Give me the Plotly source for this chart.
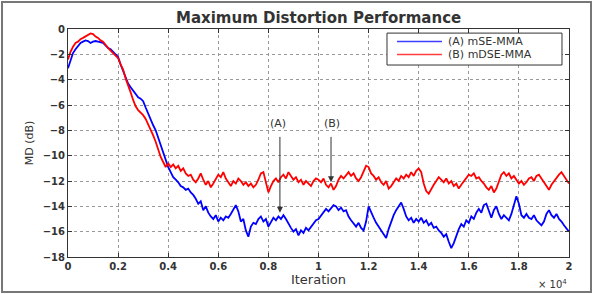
import plotly.graph_objects as go

# Sample iterations (every 100 iterations, 0 .. 20000)
iteration = list(range(0, 20001, 100))

# (A) mSE-MMA  – maximum distortion in dB
md_mse = [
    -3.1, -2.4, -1.9, -1.6, -1.3, -1.1, -1.0, -0.9, -0.95, -1.1,
    -1.0, -0.95, -1.0, -1.05, -1.1, -1.3, -1.5, -1.6, -1.8, -2.0,
    -2.2, -2.8, -3.3, -3.9, -4.3, -4.6, -4.9, -5.2, -5.4, -5.5,
    -5.7, -6.2, -6.7, -7.1, -7.6, -8.0, -8.6, -9.2, -9.8, -10.4,
    -10.9, -11.3, -11.7, -11.9, -12.1, -12.4, -12.5, -12.7, -12.6, -12.9,
    -13.1, -13.4, -13.8, -13.6, -14.3, -14.0, -14.5, -14.8, -15.0, -14.7,
    -15.2, -14.9, -15.1, -14.8, -14.9, -14.6, -14.2, -13.9, -14.4, -15.2,
    -15.0, -15.9, -16.4, -15.6, -15.3, -15.4, -15.0, -14.8, -15.2, -15.0,
    -15.6, -15.3, -14.9, -15.1, -14.8, -15.0, -14.7, -15.0, -15.4, -15.7,
    -16.0, -15.8, -16.3, -15.9, -16.1, -15.7, -15.9, -15.6, -15.4, -15.1,
    -15.0, -14.7, -14.5, -14.2, -14.4, -14.1, -13.9, -14.0, -14.3, -14.1,
    -14.4, -14.3, -14.8, -15.1, -15.4, -15.6, -15.3, -15.7, -15.9, -15.2,
    -14.0, -14.5, -14.9, -15.3, -15.6, -15.9, -16.2, -16.5, -15.8, -15.2,
    -14.7, -14.3, -14.0, -13.7, -14.2, -14.8, -15.1, -14.9, -15.3, -15.0,
    -15.2, -14.9, -15.3, -15.1, -15.5, -15.3, -15.7, -15.6, -15.9, -16.1,
    -16.4, -16.2, -16.8, -17.3, -16.9, -16.3, -15.8, -15.4, -15.6, -15.1,
    -15.3, -14.8, -15.0, -14.5, -14.2, -14.5, -13.9, -13.8, -14.4, -14.9,
    -14.3, -14.0, -14.6, -15.0, -14.7, -14.9, -15.1, -14.6, -13.9, -13.2,
    -13.8, -14.7, -14.9, -14.6, -14.9, -15.0, -14.7, -15.1, -15.3, -15.5,
    -15.2, -14.6, -14.3, -14.7, -14.9, -14.6, -15.0, -15.2, -15.5, -15.8,
    -16.0,
]

# (B) mDSE-MMA – maximum distortion in dB
md_mdse = [
    -2.4, -1.8, -1.4, -1.1, -1.0, -0.8, -0.7, -0.6, -0.45, -0.35,
    -0.4, -0.6, -0.7, -0.9, -1.0, -1.3, -1.5, -1.7, -1.9, -2.1,
    -2.3, -2.8, -3.2, -3.9, -4.4, -5.0, -5.6, -6.1, -6.4, -6.6,
    -6.8, -7.1, -7.5, -8.0, -8.4, -8.9, -9.5, -10.1, -10.5, -10.9,
    -10.6, -10.9, -10.7, -11.0, -10.8, -11.2, -11.0, -11.4, -11.6, -11.5,
    -11.9, -12.1, -11.8, -11.4, -11.9, -12.3, -12.0, -12.5, -12.2, -11.9,
    -11.5, -11.7, -11.3, -11.8, -12.1, -12.4, -12.0, -12.2, -11.8, -12.0,
    -12.3, -12.1, -12.4, -12.2, -12.5, -12.3, -11.9, -11.4, -11.3, -12.2,
    -12.9, -12.4, -12.0, -11.8, -12.1, -11.7, -11.5, -11.8, -11.3, -11.6,
    -11.9, -11.7, -12.1, -11.9, -12.3, -12.0, -12.2, -12.4, -12.0, -11.8,
    -11.9, -12.1, -11.8, -12.3, -12.5, -12.2, -12.7, -12.4, -11.9, -11.6,
    -11.8, -11.5, -11.3, -11.6, -11.4, -11.8, -12.0, -11.7, -11.2, -10.8,
    -10.9, -11.4, -11.6, -11.9, -11.7, -12.1, -12.3, -12.0, -12.6, -12.4,
    -12.1, -11.8, -12.0, -11.6, -11.8, -11.5, -11.7, -11.3, -11.6, -11.2,
    -11.0, -11.3, -12.2, -12.8, -13.0, -12.6, -12.3, -12.0, -11.7, -11.9,
    -12.1, -11.8, -12.2, -12.0, -12.4, -12.2, -12.6, -12.3, -12.0, -11.7,
    -11.5, -11.6, -11.4, -11.8, -11.7, -12.0, -12.2, -12.5, -12.7, -12.4,
    -12.9, -12.6, -12.0, -11.5, -11.3, -11.6, -11.4, -11.8, -11.6, -11.9,
    -12.2, -12.0, -12.3, -12.1, -11.8, -11.7, -12.0, -11.6, -11.5, -11.8,
    -12.1, -12.4, -12.7, -12.3, -12.0, -11.8, -11.5, -11.3, -11.6, -11.9,
    -12.2,
]

series_names = ["(A) mSE-MMA", "(B) mDSE-MMA"]
series_colors = ["#0000ff", "#ff0000"]

x_tickvals = [0, 2000, 4000, 6000, 8000, 10000, 12000, 14000, 16000, 18000, 20000]
x_ticktext = ["0", "0.2", "0.4", "0.6", "0.8", "1", "1.2", "1.4", "1.6", "1.8", "2"]
y_tickvals = [0, -2, -4, -6, -8, -10, -12, -14, -16, -18]

FONT = "DejaVu Sans"

fig = go.Figure()
for vals, name, col in zip([md_mse, md_mdse], series_names, series_colors):
    fig.add_trace(go.Scatter(x=iteration, y=vals, mode="lines", name=name,
                             line=dict(color=col, width=1.8), showlegend=False))

axis_common = dict(showline=True, linecolor="#333333", linewidth=1, mirror="ticks",
                   ticks="inside", ticklen=4, tickcolor="#333333",
                   showgrid=True, gridcolor="#999999", griddash="dot", gridwidth=1,
                   zeroline=False,
                   tickfont=dict(family=FONT, size=10, color="#333333", weight="bold"))

fig.update_xaxes(range=[0, 20000], tickvals=x_tickvals, ticktext=x_ticktext,
                 title=dict(text="Iteration", font=dict(family=FONT, size=13, color="#333333"),
                            standoff=2), **axis_common)
fig.update_yaxes(range=[-18, 0], tickvals=y_tickvals,
                 title=dict(text="MD (dB)", font=dict(family=FONT, size=11, color="#333333"),
                            standoff=6), **axis_common)

# arrows with labels
fig.add_annotation(x=8460, y=-14.5, ax=8460, ay=-8.4, xref="x", yref="y", axref="x", ayref="y",
                   showarrow=True, arrowhead=2, arrowsize=1.2, arrowwidth=1, arrowcolor="#333333", text="")
fig.add_annotation(x=10500, y=-12.1, ax=10500, ay=-8.4, xref="x", yref="y", axref="x", ayref="y",
                   showarrow=True, arrowhead=2, arrowsize=1.2, arrowwidth=1, arrowcolor="#333333", text="")
fig.add_annotation(x=8400, y=-7.45, text="(A)", showarrow=False,
                   font=dict(family=FONT, size=11, color="#333333"))
fig.add_annotation(x=10550, y=-7.45, text="(B)", showarrow=False,
                   font=dict(family=FONT, size=11, color="#333333"))
fig.add_annotation(x=1.0, y=-0.085, xref="paper", yref="paper", xanchor="right", yanchor="top",
                   text="× 10<sup>4</sup>", showarrow=False,
                   font=dict(family=FONT, size=10, color="#333333"))

# outer frame of the picture
fig.add_shape(type="rect", xref="paper", yref="paper",
              x0=-0.1317, x1=1.0439, y0=-0.1535, y1=1.1184,
              line=dict(color="#777777", width=2), fillcolor="rgba(0,0,0,0)", layer="below")

# legend (box, line samples, labels)
fig.add_shape(type="rect", xref="paper", yref="paper",
              x0=0.6367, x1=0.986, y0=0.842, y1=0.982,
              line=dict(color="#333333", width=1), fillcolor="white", layer="above")
legend_rows = [0.945, 0.888]
for name, col, ly in zip(series_names, series_colors, legend_rows):
    fig.add_shape(type="line", xref="paper", yref="paper", x0=0.6567, x1=0.7465, y0=ly, y1=ly,
                  line=dict(color=col, width=1.4), layer="above", opacity=0.75)
    fig.add_annotation(x=0.7545, y=ly, xref="paper", yref="paper", xanchor="left", yanchor="middle",
                       text=name, showarrow=False,
                       font=dict(family=FONT, size=11, color="#333333"))

fig.update_layout(
    width=604, height=294,
    margin=dict(l=68, r=35, t=29, b=37),
    paper_bgcolor="white", plot_bgcolor="white",
    title=dict(text="<b>Maximum Distortion Performance</b>", x=0.5275, xanchor="center",
               y=0.94, yanchor="middle", font=dict(family=FONT, size=15, color="#333333")),
    showlegend=False,
)

fig.write_html("out.html")
